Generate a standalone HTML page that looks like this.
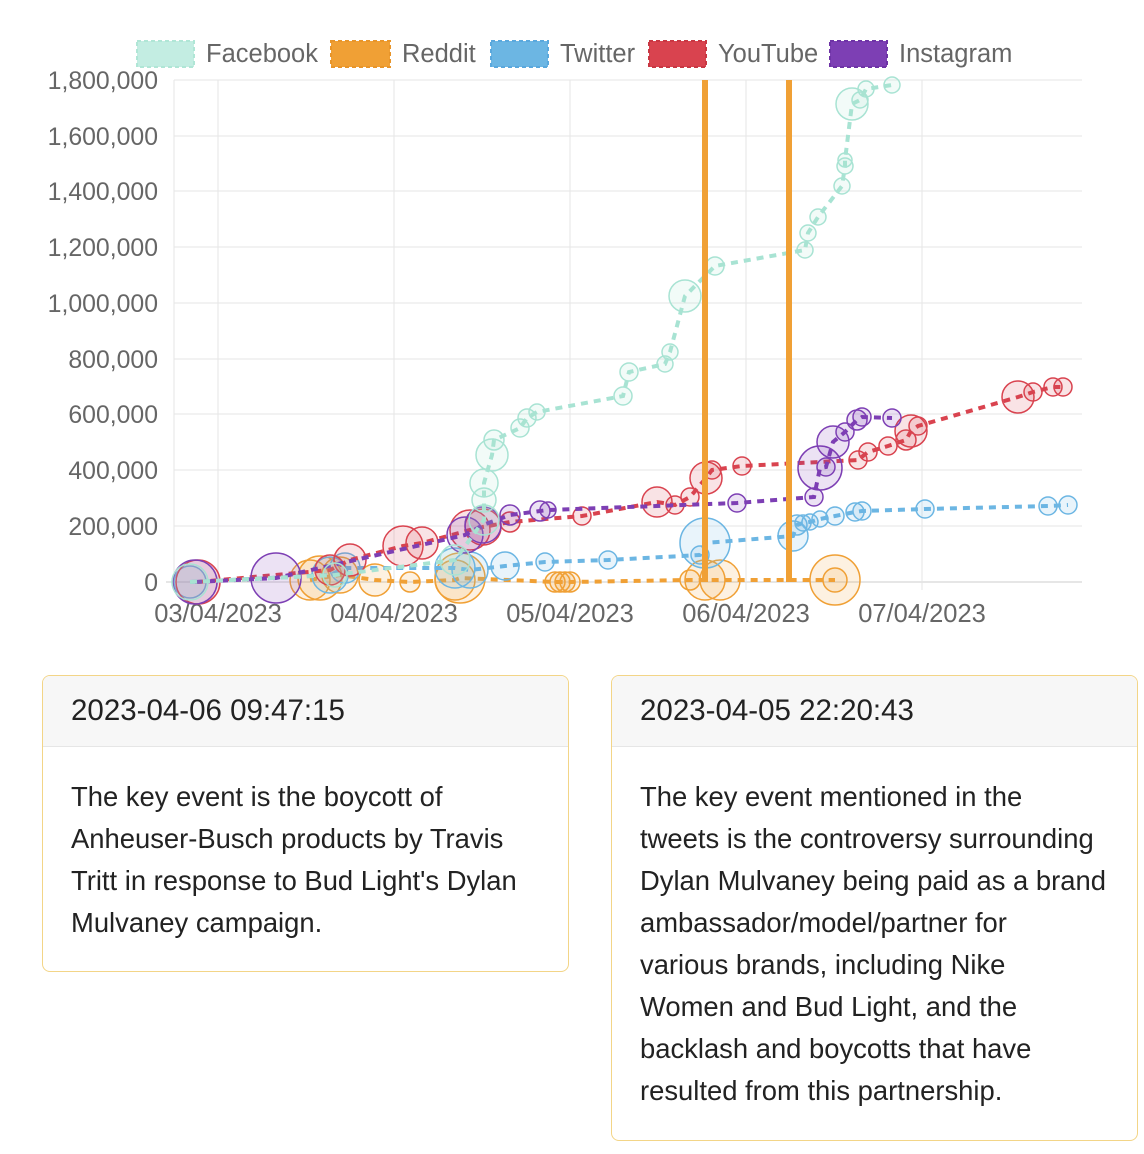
<!DOCTYPE html>
<html><head><meta charset="utf-8"><style>
body{margin:0;width:1144px;height:1154px;background:#fff;font-family:"Liberation Sans",sans-serif;position:relative;overflow:hidden}
.card{position:absolute;border:1.5px solid #f3d587;border-radius:8px;background:#fff;overflow:hidden}
.hd{height:70px;background:#f7f7f7;border-bottom:1px solid #e6e6e6;font-size:29.5px;color:#222;line-height:70px;padding-left:28px}
.bd{padding:29px 28px;font-size:27.4px;line-height:42px;color:#222;white-space:nowrap}
</style></head><body>
<svg width="1144" height="660" style="position:absolute;left:0;top:0" font-family="Liberation Sans, sans-serif">
<g stroke="#e5e5e5" stroke-width="1">
<line x1="174" y1="80" x2="1082" y2="80"/><line x1="174" y1="136" x2="1082" y2="136"/><line x1="174" y1="191" x2="1082" y2="191"/><line x1="174" y1="247" x2="1082" y2="247"/><line x1="174" y1="303" x2="1082" y2="303"/><line x1="174" y1="359" x2="1082" y2="359"/><line x1="174" y1="414" x2="1082" y2="414"/><line x1="174" y1="470" x2="1082" y2="470"/><line x1="174" y1="526" x2="1082" y2="526"/><line x1="166" y1="582" x2="1082" y2="582" stroke="#ccc"/>
<line x1="174" y1="80" x2="174" y2="590"/><line x1="218" y1="80" x2="218" y2="590"/><line x1="394" y1="80" x2="394" y2="590"/><line x1="570" y1="80" x2="570" y2="590"/><line x1="746" y1="80" x2="746" y2="590"/><line x1="922" y1="80" x2="922" y2="590"/>
</g>
<g font-size="24.8" fill="#666" text-anchor="end">
<text x="158" y="89">1,800,000</text><text x="158" y="145">1,600,000</text><text x="158" y="200">1,400,000</text><text x="158" y="256">1,200,000</text><text x="158" y="312">1,000,000</text><text x="158" y="368">800,000</text><text x="158" y="423">600,000</text><text x="158" y="479">400,000</text><text x="158" y="535">200,000</text><text x="158" y="591">0</text>
</g>
<g font-size="25.5" fill="#666" text-anchor="middle">
<text x="218" y="622">03/04/2023</text><text x="394" y="622">04/04/2023</text><text x="570" y="622">05/04/2023</text><text x="746" y="622">06/04/2023</text><text x="922" y="622">07/04/2023</text>
</g>
<g font-size="25.5" fill="#666">
<rect x="137" y="41" width="57" height="26" fill="#c3ede2" stroke="#b0e6d6" stroke-dasharray="4 3" stroke-width="2"/><text x="206" y="62">Facebook</text>
<rect x="331" y="41" width="59" height="26" fill="#f0a035" stroke="#e8952a" stroke-dasharray="4 3" stroke-width="2"/><text x="402" y="62">Reddit</text>
<rect x="491" y="41" width="57" height="26" fill="#6cb6e3" stroke="#5aa8dd" stroke-dasharray="4 3" stroke-width="2"/><text x="560" y="62">Twitter</text>
<rect x="649" y="41" width="57" height="26" fill="#d9434f" stroke="#c83743" stroke-dasharray="4 3" stroke-width="2"/><text x="718" y="62">YouTube</text>
<rect x="830" y="41" width="57" height="26" fill="#7d3fb4" stroke="#6e33a6" stroke-dasharray="4 3" stroke-width="2"/><text x="899" y="62">Instagram</text>
</g>
<g id="s"></g>
<rect x="702" y="80" width="6" height="502" fill="#f0a035"/>
<rect x="786" y="80" width="6" height="502" fill="#f0a035"/>
</svg>
<script>
var S=[
["#f0a035",[[310,580,20],[320,578,22],[340,575,18],[375,580,16],[410,582,10],[455,580,20],[460,578,25],[555,582,10],[560,582,10],[565,582,10],[570,582,10],[690,580,10],[705,580,20],[720,580,20],[835,580,25],[835,580,12]]],
["#6cb6e3",[[190,582,16],[330,575,18],[345,568,15],[455,568,20],[470,570,18],[505,566,14],[545,562,9],[608,560,9],[700,555,9],[705,543,25],[793,536,15],[797,525,10],[803,523,8],[810,522,8],[820,519,8],[835,516,9],[855,512,9],[862,511,9],[925,509,9],[1048,506,9],[1068,505,9]]],
["#d9434f",[[198,582,22],[330,570,15],[350,560,16],[403,546,20],[422,543,16],[470,530,20],[483,527,18],[510,522,10],[582,516,9],[657,502,15],[675,505,9],[690,497,9],[706,478,16],[712,470,9],[742,466,9],[858,460,9],[868,452,9],[888,446,9],[906,440,10],[911,431,16],[918,426,9],[1018,397,16],[1033,392,9],[1053,387,9],[1063,387,9]]],
["#7d3fb4",[[195,582,22],[276,578,25],[465,535,18],[483,525,18],[510,515,10],[540,511,10],[548,510,8],[737,503,9],[814,497,9],[820,468,22],[826,467,9],[833,442,16],[845,432,9],[857,420,10],[862,417,9],[892,418,9]]],
["#a8e3d3",[[190,582,18],[335,575,12],[455,560,15],[484,520,15],[484,500,12],[484,483,14],[492,455,16],[494,440,10],[520,428,9],[527,418,9],[537,412,8],[623,396,9],[629,372,9],[665,364,8],[670,352,8],[685,296,16],[715,266,9],[805,250,8],[808,233,8],[818,217,8],[842,186,8],[845,166,8],[845,160,7],[852,104,16],[860,100,8],[866,89,8],[892,85,8]]]
];
var h="";
S.forEach(function(s){var c=s[0],p=s[1];
h+='<polyline fill="none" stroke="'+c+'" stroke-width="4" stroke-dasharray="7 6" points="'+p.map(function(q){return q[0]+","+q[1]}).join(" ")+'"/>';
p.forEach(function(q){h+='<circle cx="'+q[0]+'" cy="'+q[1]+'" r="'+q[2]+'" fill="'+c+'" fill-opacity="0.15" stroke="'+c+'" stroke-width="1.5"/>';});
});
document.getElementById("s").innerHTML=h;
</script>
<div class="card" style="left:42px;top:675px;width:525px;height:295px">
<div class="hd">2023-04-06 09:47:15</div>
<div class="bd">The key event is the boycott of<br>Anheuser-Busch products by Travis<br>Tritt in response to Bud Light's Dylan<br>Mulvaney campaign.</div>
</div>
<div class="card" style="left:611px;top:675px;width:525px;height:464px">
<div class="hd">2023-04-05 22:20:43</div>
<div class="bd">The key event mentioned in the<br>tweets is the controversy surrounding<br>Dylan Mulvaney being paid as a brand<br>ambassador/model/partner for<br>various brands, including Nike<br>Women and Bud Light, and the<br>backlash and boycotts that have<br>resulted from this partnership.</div>
</div>
</body></html>
